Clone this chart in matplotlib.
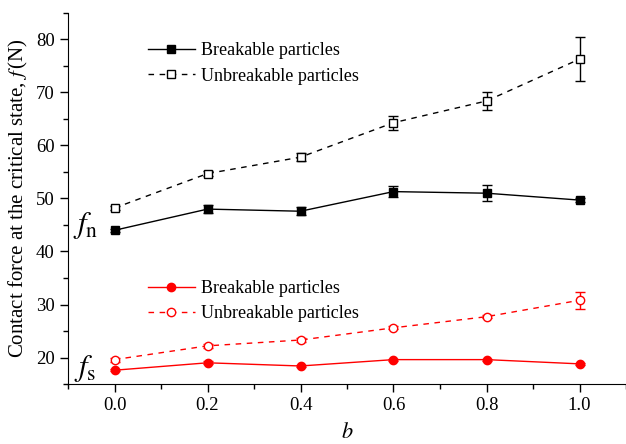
import numpy as np
import matplotlib
matplotlib.use('Agg')
import matplotlib.pyplot as plt
from matplotlib.lines import Line2D

plt.rcParams['font.family'] = ['Liberation Serif', 'DejaVu Serif']
plt.rcParams['mathtext.fontset'] = 'stix'

# data
b_vals = [0.0, 0.2, 0.4, 0.6, 0.8, 1.0]
fn_break = [44.0, 48.0, 47.6, 51.3, 51.0, 49.7]
fn_break_err = [0.3, 0.8, 0.8, 1.0, 1.5, 0.4]
fn_unbreak = [48.2, 54.7, 57.8, 64.3, 68.4, 76.3]
fn_unbreak_err = [0.4, 0.5, 0.8, 1.3, 1.7, 4.1]
fs_break = [17.6, 19.0, 18.4, 19.6, 19.6, 18.8]
fs_break_err = [0.2, 0.3, 0.2, 0.2, 0.2, 0.2]
fs_unbreak = [19.6, 22.2, 23.3, 25.6, 27.7, 30.8]
fs_unbreak_err = [0.4, 0.4, 0.3, 0.3, 0.3, 1.6]

fig = plt.figure(figsize=(6.26, 4.44), dpi=100)
ax = fig.add_axes([68/626, 60/444, 1 - 68/626, 371/444])

red = '#ff0000'
dash = (0, (4, 4))
kw = dict(markersize=6, capsize=3.5, elinewidth=1.0, capthick=1.0, linewidth=1.0)

ax.errorbar(b_vals, fn_break, yerr=fn_break_err, color='black', marker='s',
            linestyle='-', **kw)
ax.errorbar(b_vals, fn_unbreak, yerr=fn_unbreak_err, color='black', marker='s',
            markerfacecolor='white', linestyle=dash, **kw)
ax.errorbar(b_vals, fs_break, yerr=fs_break_err, color=red, marker='o',
            linestyle='-', **kw)
ax.errorbar(b_vals, fs_unbreak, yerr=fs_unbreak_err, color=red, marker='o',
            markerfacecolor='white', linestyle=dash, **kw)

def handle(color, marker, face, ls):
    return Line2D([], [], color=color, marker=marker, markerfacecolor=face,
                  linestyle=ls, linewidth=1.0, markersize=6)

leg_kw = dict(loc='upper left', frameon=False, fontsize=13, handlelength=2.6,
              handletextpad=0.35, labelspacing=0.45, borderaxespad=0)
leg1 = ax.legend(handles=[handle('black', 's', 'black', '-'),
                          handle('black', 's', 'white', dash)],
                 labels=['Breakable particles', 'Unbreakable particles'],
                 bbox_to_anchor=(0.13, 0.94), **leg_kw)
ax.add_artist(leg1)
ax.legend(handles=[handle(red, 'o', red, '-'),
                   handle(red, 'o', 'white', dash)],
          labels=['Breakable particles', 'Unbreakable particles'],
          bbox_to_anchor=(0.13, 0.30), **leg_kw)

ax.text(-0.062, 45.0, r'$f_{\rm n}$', fontsize=22, ha='center', va='center')
ax.text(-0.062, 18.0, r'$f_{\rm s}$', fontsize=22, ha='center', va='center')

ax.set_xlim(-0.1, 1.0914)
ax.set_ylim(15, 85)
ax.set_xticks([0.0, 0.2, 0.4, 0.6, 0.8, 1.0])
ax.set_xticks(np.arange(-0.1, 1.1, 0.2), minor=True)
ax.set_yticks([20, 30, 40, 50, 60, 70, 80])
ax.set_yticks(np.arange(15, 86, 10), minor=True)
ax.xaxis.set_major_formatter(matplotlib.ticker.FormatStrFormatter('%.1f'))
ax.tick_params(which='major', direction='out', length=6, width=1, labelsize=13.5)
ax.tick_params(which='minor', direction='out', length=3.5, width=1)

ax.spines['top'].set_visible(False)
ax.spines['right'].set_visible(False)

ax.set_xlabel(r'$b$', fontsize=16, labelpad=6)
ax.set_ylabel(r'Contact force at the critical state, $f\,$(N)', fontsize=15, labelpad=4)

fig.savefig('out.png', dpi=100)
